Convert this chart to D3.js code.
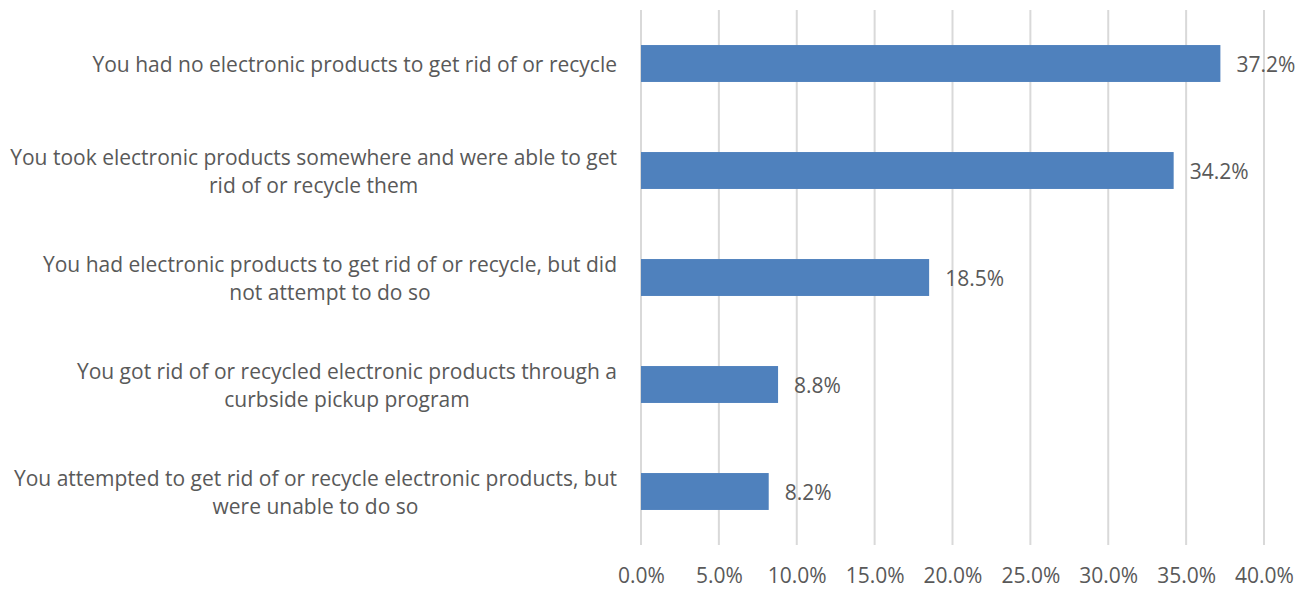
<!DOCTYPE html>
<html>
<head>
<meta charset="utf-8">
<script src="https://cdn.jsdelivr.net/npm/d3@7"></script>
<style>
  html, body { margin: 0; padding: 0; background: #ffffff; }
  svg { display: block; font-family: "Open Sans", "Noto Sans", sans-serif; }
</style>
</head>
<body>
<svg id="chart" width="1307" height="591"></svg>
<script>
// Survey responses on getting rid of / recycling electronic products
const categories = [
  ["You had no electronic products to get rid of or recycle"],
  ["You took electronic products somewhere and were able to get", "rid of or recycle them"],
  ["You had electronic products to get rid of or recycle, but did", "not attempt to do so"],
  ["You got rid of or recycled electronic products through a", "curbside pickup program"],
  ["You attempted to get rid of or recycle electronic products, but", "were unable to do so"]
];
const values = [37.2, 34.2, 18.5, 8.8, 8.2];
const tickValues = [0, 5, 10, 15, 20, 25, 30, 35, 40];

const svg = d3.select("#chart");
const margin = { left: 641, right: 43, top: 10, bottom: 46 };
const W = 1307, H = 591;
const textColor = "#595959";
const fontFamily = "'Open Sans', 'Noto Sans', sans-serif";
const fontSize = 21;

const x = d3.scaleLinear().domain([0, 40]).range([margin.left, W - margin.right]);
const y = d3.scaleBand().domain(d3.range(categories.length))
  .range([margin.top, H - margin.bottom]).padding(0);
const barH = y.bandwidth() * 0.345;

// vertical gridlines
svg.append("g").selectAll("line").data(tickValues).join("line")
  .attr("x1", d => x(d)).attr("x2", d => x(d))
  .attr("y1", margin.top).attr("y2", H - margin.bottom)
  .attr("stroke", "#d9d9d9").attr("stroke-width", 2);

// x-axis tick labels
const xAxis = d3.axisBottom(x).tickValues(tickValues)
  .tickFormat(d => d.toFixed(1) + "%").tickSize(0).tickPadding(0);
const gx = svg.append("g").attr("transform", `translate(0,${H - margin.bottom + 23})`).call(xAxis);
gx.select(".domain").remove();
gx.selectAll("text").attr("font-size", fontSize).attr("fill", textColor)
  .attr("font-family", fontFamily);

// bars
svg.append("g").selectAll("rect").data(values).join("rect")
  .attr("x", x(0))
  .attr("y", (d, i) => y(i) + (y.bandwidth() - barH) / 2)
  .attr("width", d => x(d) - x(0))
  .attr("height", barH)
  .attr("fill", "#4f81bd");

// value labels
svg.append("g").selectAll("text").data(values).join("text")
  .attr("x", d => x(d) + 16)
  .attr("y", (d, i) => y(i) + y.bandwidth() / 2 + 1)
  .attr("dy", "0.35em")
  .attr("font-size", fontSize).attr("fill", textColor)
  .text(d => d.toFixed(1) + "%");

// category labels: lines centered within a block right-aligned to the axis
const labelRight = margin.left - 24;
const lineH = 28;
categories.forEach((lines, i) => {
  const g = svg.append("g");
  const cy = y(i) + y.bandwidth() / 2 + 1;
  const texts = lines.map((s, k) => g.append("text")
    .attr("font-size", fontSize).attr("fill", textColor)
    .attr("text-anchor", "middle")
    .attr("y", cy + (k - (lines.length - 1) / 2) * lineH)
    .attr("dy", "0.35em")
    .text(s));
  const maxW = d3.max(texts, t => t.node().getComputedTextLength());
  texts.forEach(t => t.attr("x", labelRight - maxW / 2));
});
</script>
</body>
</html>
